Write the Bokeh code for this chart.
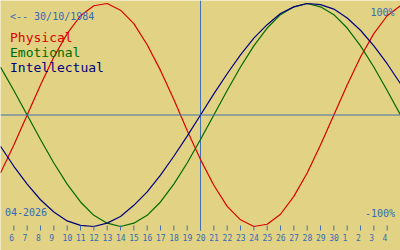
from bokeh.plotting import figure
from bokeh.models import Range1d, Label, Span
from bokeh.embed import file_html
from bokeh.resources import INLINE
from bokeh.core.properties import value

# ---- data ----
birth_label = "<-- 30/10/1984"
month_label = "04-2026"
today_day = 20
# day index: 5..30 = April 5..30, 31..35 = May 1..5
days = [5, 6, 7, 8, 9, 10, 11, 12, 13, 14, 15, 16, 17, 18, 19, 20,
        21, 22, 23, 24, 25, 26, 27, 28, 29, 30, 31, 32, 33, 34, 35]
physical = [-0.52, -0.27, 0.00, 0.27, 0.52, 0.73, 0.89, 0.98, 1.00, 0.94,
            0.82, 0.63, 0.40, 0.14, -0.14, -0.40, -0.63, -0.82, -0.94, -1.00,
            -0.98, -0.89, -0.73, -0.52, -0.27, 0.00, 0.27, 0.52, 0.73, 0.89, 0.98]
emotional = [0.43, 0.22, 0.00, -0.22, -0.43, -0.62, -0.78, -0.90, -0.97, -1.00,
             -0.97, -0.90, -0.78, -0.62, -0.43, -0.22, 0.00, 0.22, 0.43, 0.62,
             0.78, 0.90, 0.97, 1.00, 0.97, 0.90, 0.78, 0.62, 0.43, 0.22, 0.00]
intellectual = [-0.28, -0.46, -0.62, -0.76, -0.87, -0.95, -0.99, -1.00, -0.97, -0.91,
                -0.81, -0.69, -0.54, -0.37, -0.19, 0.00, 0.19, 0.37, 0.54, 0.69,
                0.81, 0.91, 0.97, 1.00, 0.99, 0.95, 0.87, 0.76, 0.62, 0.46, 0.28]
tick_days = [6, 7, 8, 9, 10, 11, 12, 13, 14, 15, 16, 17, 18, 19, 20,
             21, 22, 23, 24, 25, 26, 27, 28, 29, 30, 31, 32, 33, 34]
tick_labels = ["6", "7", "8", "9", "10", "11", "12", "13", "14", "15", "16", "17",
               "18", "19", "20", "21", "22", "23", "24", "25", "26", "27", "28",
               "29", "30", "1", "2", "3", "4"]
series_names = ["Physical", "Emotional", "Intellectual"]
top_label = "100%"
bottom_label = "-100%"

# ---- style ----
BG = "#e1d383"
TXT = "#3469b8"
AXC = "#426fae"
COLS = ["#dd0000", "#006a00", "#000080"]
FONT = "DejaVu Sans Mono"

W, H = 400, 250
Y0, YS = 114.5, 111.5          # pixel row of 0 and pixels per unit
X0, X1 = 5, 35


def vy(py):
    return (Y0 - py) / YS


def vx(px):
    return X0 + px * (X1 - X0) / W


p = figure(width=W, height=H, x_range=Range1d(X0, X1),
           y_range=Range1d(vy(H), vy(0)), min_border=0,
           toolbar_location=None, output_backend="svg",
           x_axis_type=None, y_axis_type=None,
           background_fill_color=BG, border_fill_color=BG,
           outline_line_color=None)
p.grid.visible = False

# reference lines
p.add_layout(Span(location=0, dimension="width", line_color=AXC, line_width=1))
p.segment(x0=[today_day], y0=[vy(0)], x1=[today_day], y1=[vy(230)],
          line_color=AXC, line_width=1)

# curves
for ys, c in zip([physical, emotional, intellectual], COLS):
    p.line(days, ys, line_color=c, line_width=1.2)

# day ticks
p.segment(x0=tick_days, y0=[vy(225)] * len(tick_days),
          x1=tick_days, y1=[vy(230)] * len(tick_days),
          line_color=AXC, line_width=1)
p.text(x=tick_days, y=[vy(236.5)] * len(tick_days), text=tick_labels,
       text_font=value(FONT), text_font_size="8px", text_color=TXT,
       text_align="left", text_baseline="alphabetic", x_offset=-4.6)

# labels
p.add_layout(Label(x=vx(9.5), y=vy(16), text=birth_label, text_font=FONT,
                   text_font_size="10px", text_color=TXT,
                   text_baseline="alphabetic", text_align="left"))
for i, (name, c) in enumerate(zip(series_names, COLS)):
    p.add_layout(Label(x=vx(9.5), y=vy(37 + 15 * i), text=name, text_font=FONT,
                       text_font_size="13px", text_color=c,
                       text_baseline="alphabetic", text_align="left"))
p.add_layout(Label(x=vx(4.5), y=vy(211), text=month_label, text_font=FONT,
                   text_font_size="10px", text_color=TXT,
                   text_baseline="alphabetic", text_align="left"))
p.add_layout(Label(x=vx(394), y=vy(11.5), text=top_label, text_font=FONT,
                   text_font_size="10px", text_color=TXT,
                   text_baseline="alphabetic", text_align="right"))
p.add_layout(Label(x=vx(394.5), y=vy(212.5), text=bottom_label, text_font=FONT,
                   text_font_size="10px", text_color=TXT,
                   text_baseline="alphabetic", text_align="right"))

open("out.html", "w").write(file_html(p, INLINE))
